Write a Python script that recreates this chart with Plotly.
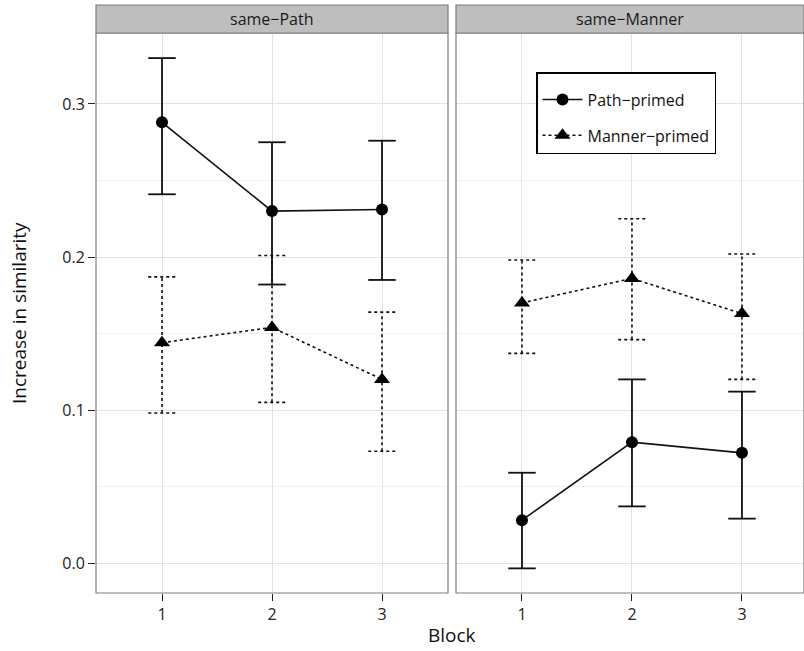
import plotly.graph_objects as go

# ---- data ----
blocks = [1, 2, 3]
panels = ["same\u2212Path", "same\u2212Manner"]
series_names = ["Path\u2212primed", "Manner\u2212primed"]

# same-Path panel
path_mean_sp = [0.288, 0.230, 0.231]
path_lo_sp = [0.241, 0.182, 0.185]
path_hi_sp = [0.330, 0.275, 0.276]
manner_mean_sp = [0.144, 0.154, 0.120]
manner_lo_sp = [0.098, 0.105, 0.073]
manner_hi_sp = [0.187, 0.201, 0.164]

# same-Manner panel
path_mean_sm = [0.028, 0.079, 0.072]
path_lo_sm = [-0.0035, 0.037, 0.029]
path_hi_sm = [0.059, 0.120, 0.112]
manner_mean_sm = [0.170, 0.186, 0.163]
manner_lo_sm = [0.137, 0.146, 0.120]
manner_hi_sm = [0.198, 0.225, 0.202]

y_ticks = [0.0, 0.1, 0.2, 0.3]
y_ticklabels = ["0.0", "0.1", "0.2", "0.3"]

FONT = "Open Sans"
CAP = 0.125


def errbar_xy(xs, lo, hi):
    ex, ey = [], []
    for x, l, h in zip(xs, lo, hi):
        ex += [x, x, None, x - CAP, x + CAP, None, x - CAP, x + CAP, None]
        ey += [l, h, None, h, h, None, l, l, None]
    return ex, ey


fig = go.Figure()

panel_data = [
    ("x", "y", path_mean_sp, path_lo_sp, path_hi_sp, manner_mean_sp, manner_lo_sp, manner_hi_sp),
    ("x2", "y2", path_mean_sm, path_lo_sm, path_hi_sm, manner_mean_sm, manner_lo_sm, manner_hi_sm),
]

for i, (xa, ya, pm, pl, ph, mm, ml, mh) in enumerate(panel_data):
    ex, ey = errbar_xy(blocks, ml, mh)
    fig.add_trace(go.Scatter(x=ex, y=ey, mode="lines", xaxis=xa, yaxis=ya,
                             line=dict(color="#111111", width=1.6, dash="dot"),
                             showlegend=False, hoverinfo="skip"))
    ex, ey = errbar_xy(blocks, pl, ph)
    fig.add_trace(go.Scatter(x=ex, y=ey, mode="lines", xaxis=xa, yaxis=ya,
                             line=dict(color="#111111", width=1.8),
                             showlegend=False, hoverinfo="skip"))
    fig.add_trace(go.Scatter(x=blocks, y=pm, mode="lines+markers", xaxis=xa, yaxis=ya,
                             name=series_names[0], legendgroup="p", showlegend=(i == 1),
                             line=dict(color="#111111", width=1.6),
                             marker=dict(symbol="circle", size=12, color="#000000")))
    fig.add_trace(go.Scatter(x=blocks, y=mm, mode="lines+markers", xaxis=xa, yaxis=ya,
                             name=series_names[1], legendgroup="m", showlegend=(i == 1),
                             line=dict(color="#111111", width=1.6, dash="dot"),
                             marker=dict(symbol="triangle-up", size=14, color="#000000")))

W, H = 804, 651
ml_, mr_, mt_, mb_ = 96, 0, 33, 58
plot_w = W - ml_ - mr_
plot_h = H - mt_ - mb_
d1 = [0, 352 / plot_w]
d2 = [360 / plot_w, 1]

xcommon = dict(tickvals=blocks, ticktext=[str(b) for b in blocks],
               showgrid=True, gridcolor="#e3e3e3", gridwidth=1.3, zeroline=False,
               ticks="outside", ticklen=7, tickwidth=1.3, tickcolor="#222222",
               tickfont=dict(family=FONT, size=16, color="#222222"),
               showline=False)
ycommon = dict(range=[-0.0196, 0.3464], tickvals=y_ticks, showgrid=True,
               gridcolor="#e3e3e3", gridwidth=1.3, zeroline=False,
               minor=dict(tickvals=[0.05, 0.15, 0.25], showgrid=True,
                          gridcolor="#f1f1f1", gridwidth=1.1, ticks=""),
               showline=False)

fig.update_layout(
    width=W, height=H,
    margin=dict(l=ml_, r=mr_, t=mt_, b=mb_),
    paper_bgcolor="white", plot_bgcolor="white",
    font=dict(family=FONT, color="#222222"),
    xaxis=dict(domain=d1, anchor="y", range=[0.4, 3.6], **xcommon),
    xaxis2=dict(domain=d2, anchor="y2", range=[0.4, 3.564], **xcommon),
    yaxis=dict(anchor="x", ticktext=y_ticklabels, ticks="outside", ticklen=7,
               tickwidth=1.3, tickcolor="#222222",
               tickfont=dict(family=FONT, size=16, color="#222222"), **ycommon),
    yaxis2=dict(anchor="x2", matches="y", showticklabels=False, ticks="", **ycommon),
    legend=dict(x=(536 - ml_) / plot_w, y=1 - (72 - mt_) / plot_h,
                xanchor="left", yanchor="top",
                bgcolor="white", bordercolor="#000000", borderwidth=1.5,
                font=dict(family=FONT, size=16, color="#111111"),
                title=dict(text=" ", font=dict(size=7)),
                tracegroupgap=12, itemwidth=40),
    showlegend=True,
)

shapes = []
annotations = []
strip_top = 1 + 28 / plot_h
for dom, label in zip([d1, d2], panels):
    shapes.append(dict(type="rect", xref="paper", yref="paper", x0=dom[0], x1=dom[1],
                       y0=0, y1=1, line=dict(color="#7f7f7f", width=1.2),
                       fillcolor="rgba(0,0,0,0)", layer="above"))
    shapes.append(dict(type="rect", xref="paper", yref="paper", x0=dom[0], x1=dom[1],
                       y0=1, y1=strip_top, line=dict(color="#7f7f7f", width=1.2),
                       fillcolor="#bebebe"))
    annotations.append(dict(text=label, xref="paper", yref="paper",
                            x=(dom[0] + dom[1]) / 2, y=(1 + strip_top) / 2,
                            xanchor="center", yanchor="middle", showarrow=False,
                            font=dict(family=FONT, size=16, color="#1a1a1a")))

annotations.append(dict(text="Block", xref="paper", yref="paper", x=(452 - ml_) / plot_w,
                        y=0, yanchor="middle", xanchor="center", yshift=-42,
                        showarrow=False, font=dict(family=FONT, size=19, color="#111111")))
annotations.append(dict(text="Increase in similarity", xref="paper", yref="paper",
                        x=0, xshift=-(ml_ - 19), y=0.5, xanchor="center", yanchor="middle",
                        textangle=-90, showarrow=False,
                        font=dict(family=FONT, size=19, color="#111111")))

fig.update_layout(shapes=shapes, annotations=annotations)
fig.write_html("out.html", config={"displayModeBar": False},
               post_script="document.body.style.margin='0';document.body.style.overflow='hidden';")
